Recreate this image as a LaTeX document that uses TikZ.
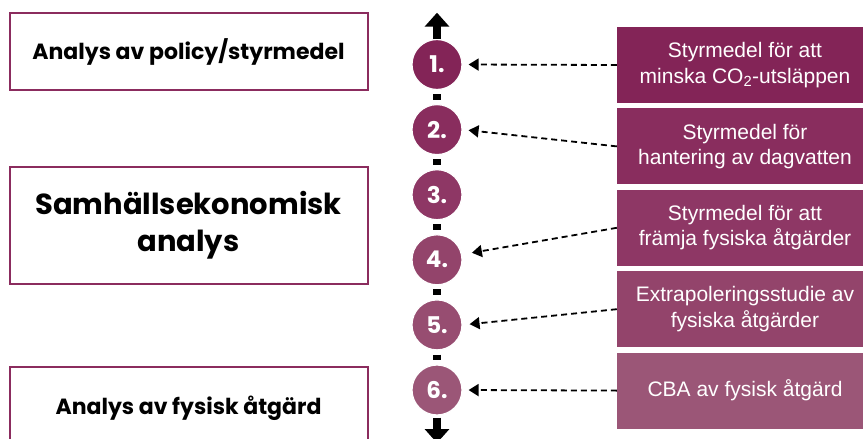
\documentclass[tikz,border=0pt]{standalone}
\usepackage{fontspec}
\setmainfont{Liberation Sans}
\newfontfamily\gothic{Poppins}
\usetikzlibrary{arrows.meta}
\definecolor{cA}{HTML}{832457}
\definecolor{cB}{HTML}{892D5E}
\definecolor{cC}{HTML}{8E3765}
\definecolor{cD}{HTML}{93446B}
\definecolor{cE}{HTML}{974D71}
\definecolor{cF}{HTML}{9B5677}
\definecolor{frame}{HTML}{8B2C5E}
\tikzset{
  leftbox/.style={draw=frame, line width=2pt, minimum width=358pt, inner sep=0pt, align=center, font=\gothic\bfseries},
  rightbox/.style={minimum width=256pt, minimum height=76pt, inner sep=0pt, align=center, text=white, font=\fontsize{21}{25.5}\selectfont},
  numcirc/.style={circle, minimum size=50pt, inner sep=0pt, draw=white, line width=1.2pt, text=white, font=\gothic\bfseries\fontsize{23}{26}\selectfont},
  axis/.style={line width=8pt, black},
  axisarrow/.style={line width=8pt, black, -{Triangle[width=24pt,length=14pt]}},
  dasharrow/.style={line width=1.8pt, dash pattern=on 6pt off 4pt, -{Triangle[width=12pt,length=10pt]}},
}
\begin{document}
\begin{tikzpicture}[x=1pt,y=1pt]
\useasboundingbox (0,0) rectangle (863,-439);
\fill[white] (0,0) rectangle (863,-439);
\clip (0,0) rectangle (863,-439);
% left boxes
\node[leftbox, minimum height=77pt, font=\gothic\bfseries\fontsize{22}{26}\selectfont] (L1) at (188.5,-51.5) {Analys av policy/styrmedel};
\node[leftbox, minimum height=117pt, font=\gothic\bfseries\fontsize{29}{37}\selectfont] (L2) at (188.5,-225.5) {Samhällsekonomisk\\analys};
\node[leftbox, minimum height=83pt, font=\gothic\bfseries\fontsize{22}{26}\selectfont] (L3) at (188.5,-408.5) {Analys av fysisk åtgärd};
% circles
\node[numcirc, fill=cA] (c1) at (437,-64.5) {1.};
\node[numcirc, fill=cB] (c2) at (437,-129.6) {2.};
\node[numcirc, fill=cC] (c3) at (437,-194.7) {3.};
\node[numcirc, fill=cD] (c4) at (437,-259.8) {4.};
\node[numcirc, fill=cE] (c5) at (437,-324.9) {5.};
\node[numcirc, fill=cF] (c6) at (437,-390) {6.};
\coordinate (top) at (437,-12.7);
\coordinate (bot) at (437,-443);
\draw[axisarrow] (c1.north) -- (top);
\draw[axisarrow, shorten <=2pt] (c6.south) -- (bot);
\foreach \a/\b in {c1/c2,c2/c3,c3/c4,c4/c5,c5/c6}
  \draw[axis, shorten <=4pt, shorten >=4pt] (\a.south) -- (\b.north);
% right boxes
\node[rightbox, fill=cA] (r1) at (745,-65) {Styrmedel för att\\minska CO\textsubscript{2}-utsläppen};
\node[rightbox, fill=cB] (r2) at (745,-146.4) {Styrmedel för\\hantering av dagvatten};
\node[rightbox, fill=cC] (r3) at (745,-227.8) {Styrmedel för att\\främja fysiska åtgärder};
\node[rightbox, fill=cD] (r4) at (745,-309.2) {Extrapoleringsstudie av\\fysiska åtgärder};
\node[rightbox, fill=cF] (r5) at (745,-390.6) {CBA av fysisk åtgärd};
% connectors
\draw[dasharrow, shorten >=6pt] (r1.west) -- (c1.east);
\draw[dasharrow, shorten >=6pt] (r2.west) -- (c2.east);
\draw[dasharrow, shorten >=10pt] (r3.west) -- (c4.12);
\draw[dasharrow, shorten >=7pt] (r4.west) -- (c5.east);
\draw[dasharrow, shorten >=6pt] (r5.west) -- (c6.east);
\end{tikzpicture}
\end{document}
